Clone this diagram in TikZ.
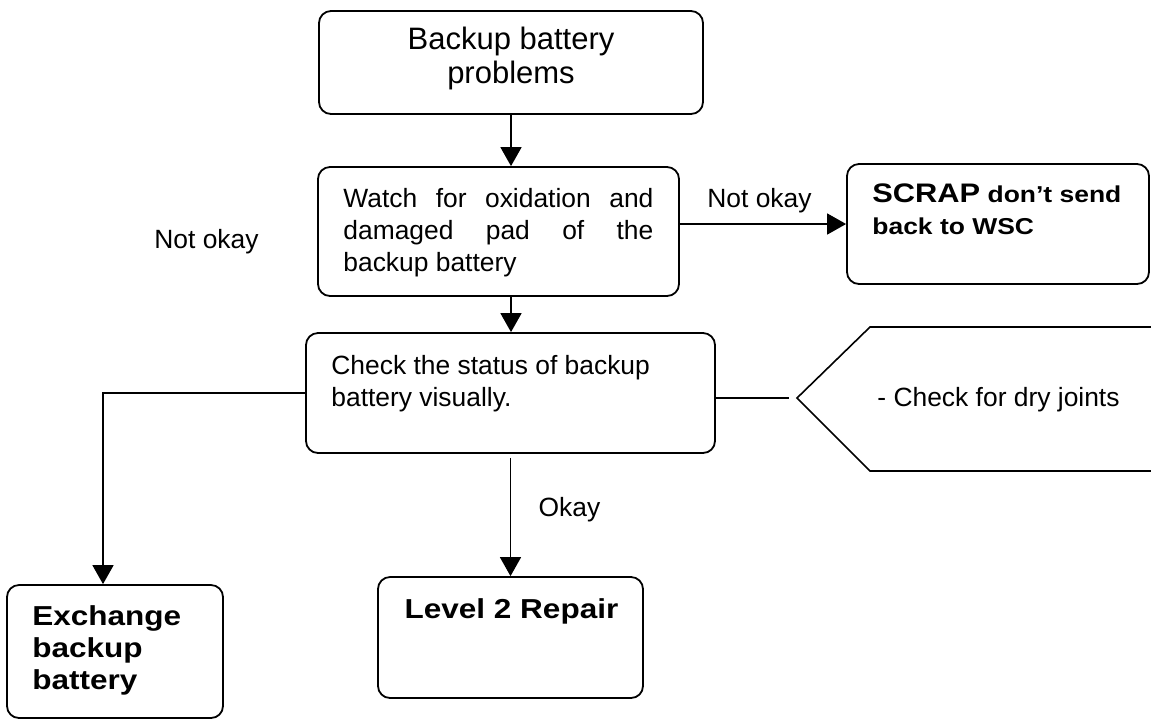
\documentclass[tikz,border=0pt]{standalone}
\usepackage{fontspec}
\setmainfont{Liberation Sans}
\newfontfamily\boldwide{Liberation Sans}[FakeStretch=1.15]
\usetikzlibrary{arrows.meta}

\tikzset{
    box/.style={draw, line width=0.9pt, rounded corners=6pt, inner sep=0pt},
    txt/.style={inner sep=0pt, font=\fontsize{13.2}{16}\selectfont},
    strong/.style={inner sep=0pt, font=\boldwide\bfseries\fontsize{13.7}{16}\selectfont},
    line/.style={line width=0.8pt},
    arr/.style={line width=0.8pt, -{Triangle[length=9.5pt,width=10.5pt]}}
}

\begin{document}
\begin{tikzpicture}[x=0.5pt, y=-0.5pt]
    \useasboundingbox[fill=white] (0,0) rectangle (1151,720);

    % boxes
    \node[box, minimum width=192pt, minimum height=51.5pt] (title) at (511,62.5) {};
    \node[box, minimum width=180.5pt, minimum height=64.5pt] (watch) at (498.5,231.5) {};
    \node[box, minimum width=151pt, minimum height=60pt] (scrap) at (998,224) {};
    \node[box, minimum width=204.5pt, minimum height=60pt] (chk) at (510.5,393) {};
    \node[box, minimum width=108pt, minimum height=66.5pt] (exch) at (115,651.5) {};
    \node[box, minimum width=132.5pt, minimum height=60.5pt] (lvl) at (510.5,637.5) {};

    % open arrow shape on the right
    \coordinate (drytip) at (797,398);
    \draw[line] (1151,327) -- (870,327) -- (drytip) -- (870,471) -- (1151,471);

    % texts
    \node[txt, align=center, font=\fontsize{15.5}{17}\selectfont] (titletxt) at (511,58)
        {Backup battery\\problems};
    \node[txt, align=left, anchor=west] (watchtxt) at (343,233)
        {\makebox[155pt][s]{Watch for oxidation and}\\
         \makebox[155pt][s]{damaged pad of the}\\
         backup battery};
    \node[strong, align=left, anchor=west, font=\boldwide\bfseries\fontsize{11.5}{16}\selectfont] (scraptxt) at (872,209)
        {{\fontsize{13.4}{16}\selectfont SCRAP} don’t send\\back to WSC};
    \node[txt, align=left, anchor=west] (chktxt) at (331,383.5)
        {Check the status of backup\\battery visually.};
    \node[strong, align=left, anchor=west] (exchtxt) at (32,650.5)
        {Exchange\\backup\\battery};
    \node[strong] (lvltxt) at (511.5,611) {Level 2 Repair};
    \node[txt] (drytxt) at (998.5,400) {- Check for dry joints};

    % labels
    \node[txt] (nokleft) at (206.5,242) {Not okay};
    \node[txt] (nokright) at (759.5,200.5) {Not okay};
    \node[txt] (oklbl) at (569.5,510) {Okay};

    % connectors
    \draw[arr] (title.south) -- (title.south |- watch.north);
    \draw[arr] (scrap.west -| watch.east) -- (scrap.west);
    \draw[arr] (title.south |- watch.south) -- (title.south |- chk.north);
    \draw[arr] (chk.west) -| ([xshift=-6pt]exch.north);
    \draw[arr, shorten <=2pt] (chk.south) -- (lvl.north);
    \draw[line, shorten >=4pt] (chk.east |- drytip) -- (drytip);
\end{tikzpicture}
\end{document}
